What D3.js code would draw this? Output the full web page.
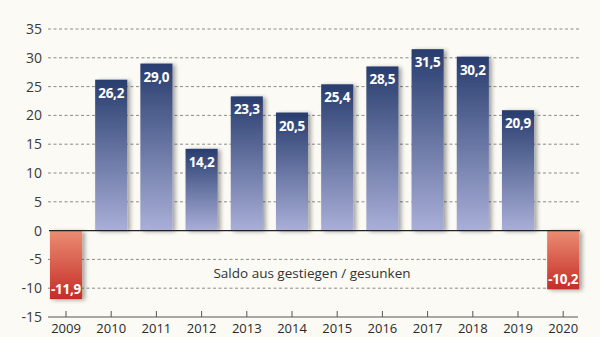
<!DOCTYPE html>
<html><head><meta charset="utf-8">
<script src="https://cdn.jsdelivr.net/npm/d3@7"></script>
<style>
html,body{margin:0;padding:0;background:#fbfaf4;}
svg{display:block;font-family:"Open Sans","Noto Sans",sans-serif;}
</style></head>
<body>
<script>
const years = ["2009","2010","2011","2012","2013","2014","2015","2016","2017","2018","2019","2020"];
const values = [-11.9,26.2,29.0,14.2,23.3,20.5,25.4,28.5,31.5,30.2,20.9,-10.2];
const yTicks = [35,30,25,20,15,10,5,0,-5,-10,-15];
const note = "Saldo aus gestiegen / gesunken";

const W=600,H=337;
const svg=d3.select("body").append("svg").attr("width",W).attr("height",H);
svg.append("rect").attr("width",W).attr("height",H).attr("fill","#fbfaf4");

const y=d3.scaleLinear().domain([-15,35]).range([317,29]);
const x=d3.scaleBand().domain(years).range([43.4,585.8]).paddingInner(0.29).paddingOuter(0.145);
const fmt=v=>d3.format(".1f")(v).replace(".",",").replace("\u2212","-");

const defs=svg.append("defs");
const gb=defs.append("linearGradient").attr("id","gb").attr("x1",0).attr("y1",0).attr("x2",0).attr("y2",1);
gb.append("stop").attr("offset","0%").attr("stop-color","#283d6e");
gb.append("stop").attr("offset","100%").attr("stop-color","#a9afd8");
const gr=defs.append("linearGradient").attr("id","gr").attr("x1",0).attr("y1",0).attr("x2",0).attr("y2",1);
gr.append("stop").attr("offset","0%").attr("stop-color","#eb8d72");
gr.append("stop").attr("offset","100%").attr("stop-color","#c52d27");
const f=defs.append("filter").attr("id","sh").attr("x","-30%").attr("y","-10%").attr("width","160%").attr("height","130%");
f.append("feGaussianBlur").attr("in","SourceAlpha").attr("stdDeviation",2.2);
f.append("feOffset").attr("dx",3).attr("dy",1).attr("result","b");
f.append("feComponentTransfer").append("feFuncA").attr("type","linear").attr("slope",0.35);
const m=f.append("feMerge");m.append("feMergeNode");m.append("feMergeNode").attr("in","SourceGraphic");

// gridlines
svg.append("g").selectAll("line").data(yTicks.filter(t=>t!==0&&t!==-15)).join("line")
 .attr("x1",48).attr("x2",580).attr("y1",d=>y(d)).attr("y2",d=>y(d))
 .attr("stroke","#8a8a8a").attr("stroke-width",1).attr("stroke-dasharray","3,2.5");

// y labels
const yAxis=d3.axisLeft(y).tickValues(yTicks).tickSize(0).tickPadding(0).tickFormat(d=>String(d));
const ya=svg.append("g").attr("transform","translate(42,0)").call(yAxis);
ya.select(".domain").remove();
ya.selectAll("text").attr("font-size",14).attr("fill","#3a3a3a").attr("font-family","'Open Sans','Noto Sans',sans-serif");

// bars
svg.append("g").selectAll("rect").data(values).join("rect")
 .attr("x",(d,i)=>x(years[i])).attr("width",x.bandwidth())
 .attr("y",d=>y(Math.max(0,d))).attr("height",d=>Math.abs(y(d)-y(0)))
 .attr("fill",d=>d>=0?"url(#gb)":"url(#gr)").attr("filter","url(#sh)");

// zero line
svg.append("line").attr("x1",49).attr("x2",580).attr("y1",y(0)).attr("y2",y(0)).attr("stroke","#222").attr("stroke-width",1.3);

// value labels
svg.append("g").selectAll("text").data(values).join("text")
 .attr("x",(d,i)=>x(years[i])+x.bandwidth()/2)
 .attr("y",d=>d>=0?y(d)+18:y(d)-5)
 .attr("text-anchor","middle").attr("fill","#fff").attr("font-weight","bold").attr("font-size",13.5)
 .attr("letter-spacing",-0.3)
 .text(d=>fmt(d));

// bottom axis
const xAxis=d3.axisBottom(x).tickSize(0).tickPadding(0);
const xa=svg.append("g").attr("transform","translate(0,317)").call(xAxis);
xa.select(".domain").remove();
xa.selectAll("text").attr("y",16).attr("dy",0).attr("font-size",13).attr("fill","#2a2a2a").attr("font-family","'Open Sans','Noto Sans',sans-serif");
svg.append("line").attr("x1",48).attr("x2",578).attr("y1",317).attr("y2",317).attr("stroke","#555").attr("stroke-width",1);
svg.append("g").selectAll("line").data(years).join("line")
 .attr("x1",d=>x(d)+x.bandwidth()/2).attr("x2",d=>x(d)+x.bandwidth()/2)
 .attr("y1",311).attr("y2",317).attr("stroke","#555");

svg.append("text").attr("x",312).attr("y",278).attr("text-anchor","middle").attr("font-size",13.5).attr("fill","#333").text(note);
</script>
</body></html>
